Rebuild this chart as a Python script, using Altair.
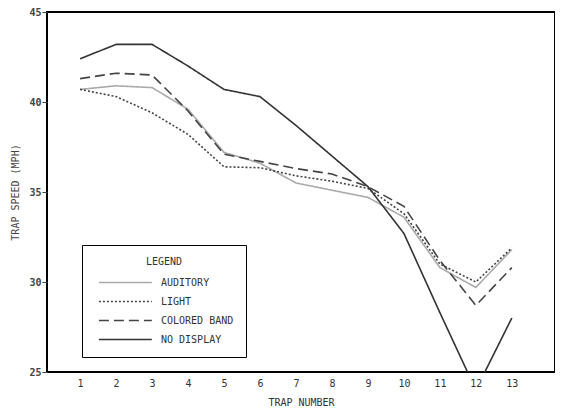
import altair as alt
import pandas as pd

traps = list(range(1, 14))
series_names = ["AUDITORY", "LIGHT", "COLORED BAND", "NO DISPLAY"]
auditory = [40.7, 40.9, 40.8, 39.6, 37.2, 36.6, 35.5, 35.1, 34.7, 33.6, 30.8, 29.7, 31.8]
light = [40.7, 40.3, 39.4, 38.2, 36.4, 36.35, 35.9, 35.6, 35.2, 33.8, 31.0, 30.0, 31.9]
colored_band = [41.3, 41.6, 41.5, 39.5, 37.1, 36.7, 36.3, 36.0, 35.3, 34.2, 31.2, 28.7, 30.8]
no_display = [42.4, 43.2, 43.2, 42.0, 40.7, 40.3, 38.7, 37.0, 35.3, 32.7, 28.3, 24.0, 28.0]

rows = []
for name, vals in zip(series_names, [auditory, light, colored_band, no_display]):
    for t, v in zip(traps, vals):
        rows.append({"trap": t, "speed": v, "series": name})
df = pd.DataFrame(rows)

FONT = "DejaVu Sans Mono"

legend = alt.Legend(
    title="LEGEND",
    orient="none",
    legendX=35,
    legendY=233,
    direction="vertical",
    fillColor="white",
    strokeColor="black",
    padding=12,
    titleAnchor="middle",
    titleFont=FONT,
    titleFontSize=10,
    titleFontWeight="normal",
    titleColor="#333",
    titlePadding=9,
    labelFont=FONT,
    labelFontSize=10,
    labelColor="#333",
    labelOffset=54,
    symbolType="M-0.3,0H9.7",
    symbolSize=112,
    symbolStrokeWidth=1.5,
    rowPadding=7,
)

chart = alt.Chart(df).mark_line(clip=True, strokeWidth=1.6).encode(
    x=alt.X("trap:Q", scale=alt.Scale(domain=[0.08, 14.2], nice=False, zero=False),
            axis=alt.Axis(values=traps, title="TRAP NUMBER", ticks=False, domain=False,
                          labelFont=FONT, labelFontSize=10, labelColor="#333", labelPadding=6,
                          titleFont=FONT, titleFontSize=10, titleFontWeight="normal",
                          titleColor="#333", titlePadding=9, grid=False)),
    y=alt.Y("speed:Q", scale=alt.Scale(domain=[25, 45], nice=False, zero=False),
            axis=alt.Axis(values=[25, 30, 35, 40, 45], title="TRAP SPEED (MPH)",
                          ticks=True, tickSize=5, tickColor="#444", domain=False,
                          labelFont=FONT, labelFontSize=10, labelFontWeight="bold",
                          labelColor="#444", labelPadding=1,
                          titleFont=FONT, titleFontSize=10, titleFontWeight="normal",
                          titleColor="#444", titlePadding=8, grid=False)),
    color=alt.Color("series:N", sort=series_names,
                    scale=alt.Scale(domain=series_names, range=["#aaaaaa", "#444444", "#444444", "#333333"]),
                    legend=legend),
    strokeDash=alt.StrokeDash("series:N", sort=series_names,
                              scale=alt.Scale(domain=series_names,
                                              range=[[1, 0], [2, 2], [10, 5], [1, 0]]),
                              legend=legend),
    order=alt.Order("trap:Q"),
).properties(
    width=508,
    height=360,
    background="white",
    autosize=alt.AutoSizeParams(type="none"),
    padding={"left": 39, "top": 4, "right": 0, "bottom": 37},
).configure_view(
    stroke="black", strokeWidth=2
)

chart.save("out.html", embed_options={"renderer": "svg", "actions": False})
